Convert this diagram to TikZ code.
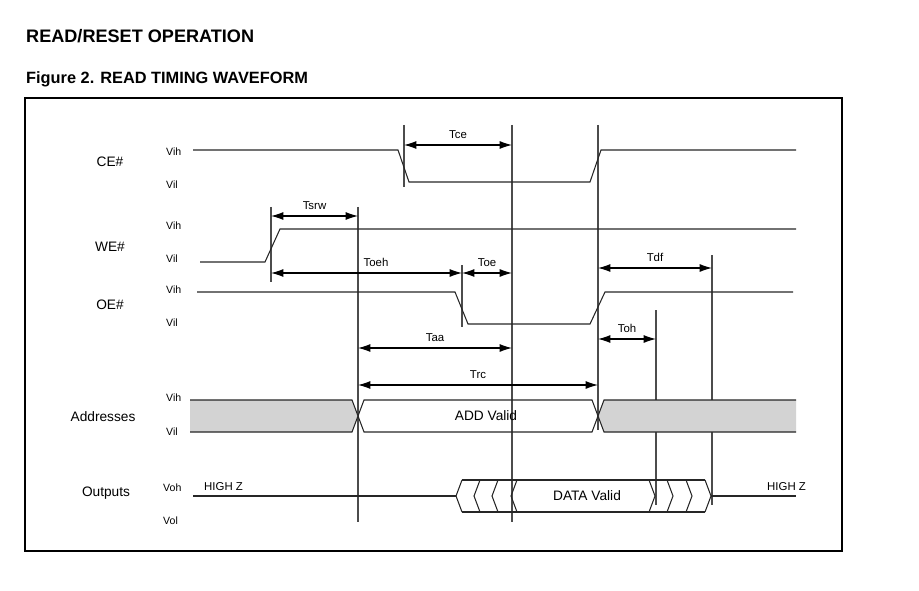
\documentclass[tikz,border=0pt]{standalone}
\usepackage{fontspec}
\setmainfont{Liberation Sans}
\usetikzlibrary{arrows.meta}
\definecolor{busgray}{RGB}{211,211,211}
\begin{document}
\begin{tikzpicture}[
x=0.02cm, y=-0.02cm,
wave/.style={draw=black!85, line width=0.6pt},
tick/.style={draw=black!70, line width=0.6pt},
dim/.style={draw=black, line width=0.6pt, {Latex[length=7pt,width=4.5pt]}-{Latex[length=7pt,width=4.5pt]}},
sig/.style={font=\fontsize{7.8}{9}\selectfont},
lvl/.style={font=\fontsize{6}{7}\selectfont, anchor=west},
tl/.style={font=\fontsize{6.5}{8}\selectfont, above=0pt}
]
\useasboundingbox (0,0) rectangle (919,591);

% headings
\node[anchor=west, font=\bfseries\fontsize{10.3}{12}\selectfont] (head) at (20,36) {READ/RESET OPERATION};
\node[anchor=west, font=\bfseries\fontsize{9.3}{11}\selectfont] (fig) at (20,79) {Figure 2. READ TIMING WAVEFORM};
\draw[line width=0.8pt] (25,98) rectangle (842,551);

% signal names
\node[sig] (ce) at (110,162) {CE\#};
\node[sig] (we) at (110,247) {WE\#};
\node[sig] (oe) at (110,305) {OE\#};
\node[sig] (addr) at (103,417) {Addresses};
\node[sig] (out) at (106,493) {Outputs};
\foreach \y/\t [count=\i] in {152/Vih,185/Vil,226/Vih,259/Vil,290/Vih,323/Vil,398/Vih,432/Vil}
  \node[lvl] (lv\i) at (160,\y) {\t};
\node[lvl] (lvoh) at (157,488) {Voh};
\node[lvl] (lvol) at (157,521) {Vol};

% reference lines
\draw[tick] (404,125) -- (404,187);
\draw[tick] (512,125) -- (512,522);
\draw[tick] (358,207) -- (358,522);
\draw[tick] (271,207) -- (271,282);
\draw[tick] (462,265) -- (462,327);
\draw[tick] (598,125) -- (598,430);
\draw[tick] (656,310) -- (656,505);
\draw[tick] (712,255) -- (712,505);

% waveforms
\draw[wave] (193,150) -- (398,150) -- (409,182) -- (590,182) -- (601,150) -- (796,150);
\draw[wave] (200,262) -- (265,262) -- (280,229) -- (796,229);
\draw[wave] (197,292) -- (455,292) -- (468,324) -- (590,324) -- (605,292) -- (793,292);

% address bus
\fill[busgray] (190,400) -- (352,400) -- (358,416) -- (352,432) -- (190,432) -- cycle;
\fill[busgray] (796,400) -- (604,400) -- (598,416) -- (604,432) -- (796,432) -- cycle;
\draw[wave] (190,400) -- (352,400) -- (364,432) -- (592,432) -- (604,400) -- (796,400);
\draw[wave] (190,432) -- (352,432) -- (364,400) -- (592,400) -- (604,432) -- (796,432);
\node[sig] (addv) at (486,416) {ADD Valid};

% output bus
\draw[wave] (193,496) -- (456,496);
\draw[wave] (711,496) -- (796,496);
\draw[wave] (462,480) -- (705,480);
\draw[wave] (462,512) -- (705,512);
\foreach \x in {456,474,492,511}
  \draw[wave] (\x+6,480) -- (\x,496) -- (\x+6,512);
\foreach \x in {655,673,692,711}
  \draw[wave] (\x-6,480) -- (\x,496) -- (\x-6,512);
\node[sig] (datav) at (587,496) {DATA Valid};
\node[lvl, font=\fontsize{6.5}{8}\selectfont] (hzl) at (198,487) {HIGH Z};
\node[lvl, font=\fontsize{6.5}{8}\selectfont] (hzr) at (761,487) {HIGH Z};

% timing arrows
\coordinate (a1) at (404,145); \coordinate (b1) at (512,145);
\draw[dim] (a1) -- node[tl] {Tce} (b1);
\coordinate (a2) at (271,216); \coordinate (b2) at (358,216);
\draw[dim] (a2) -- node[tl] {Tsrw} (b2);
\coordinate (a3) at (271,273); \coordinate (b3) at (462,273);
\draw[dim] (a3) -- node[tl, pos=0.55] {Toeh} (b3);
\coordinate (b4) at (512,273);
\draw[dim] (b3) -- node[tl] {Toe} (b4);
\coordinate (a5) at (598,268); \coordinate (b5) at (712,268);
\draw[dim] (a5) -- node[tl] {Tdf} (b5);
\coordinate (a6) at (358,348); \coordinate (b6) at (512,348);
\draw[dim] (a6) -- node[tl] {Taa} (b6);
\coordinate (a7) at (598,339); \coordinate (b7) at (656,339);
\draw[dim] (a7) -- node[tl] {Toh} (b7);
\coordinate (a8) at (358,385); \coordinate (b8) at (598,385);
\draw[dim] (a8) -- node[tl] {Trc} (b8);
\end{tikzpicture}
\end{document}
